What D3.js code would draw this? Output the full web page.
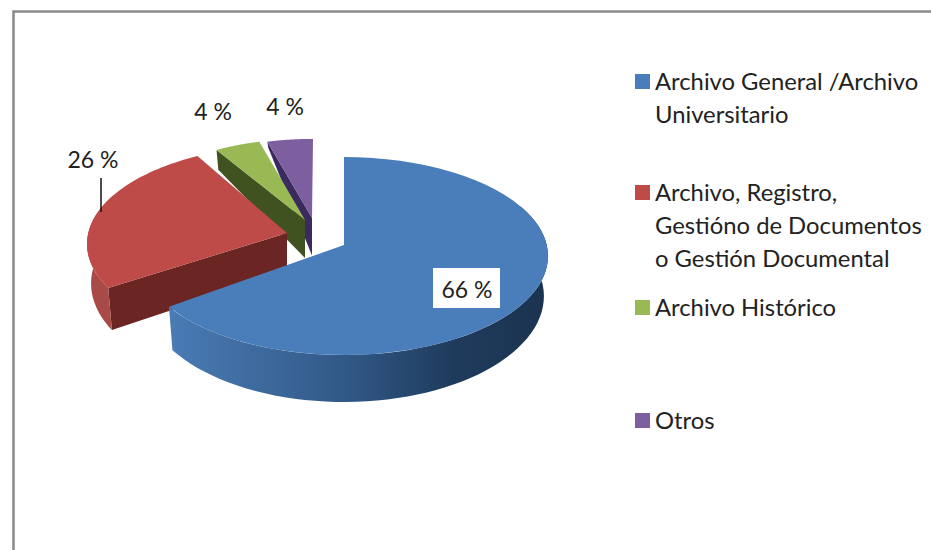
<!DOCTYPE html>
<html>
<head>
<meta charset="utf-8">
<script src="https://cdnjs.cloudflare.com/ajax/libs/d3/7.8.5/d3.min.js"></script>
<style>
  html, body { margin: 0; padding: 0; background: #fff; overflow: hidden; }
  text { font-family: Lato, "Open Sans", sans-serif; fill: #222; }
</style>
</head>
<body>
<svg></svg>
<script>
const width = 931;
const height = 550;

const categories = ['Archivo General /Archivo Universitario', 'Archivo, Registro, Gestióno de Documentos o Gestión Documental', 'Archivo Histórico', 'Otros'];
const values = [66, 26, 4, 4];
const legendLines = [
  ['Archivo General /Archivo', 'Universitario'],
  ['Archivo, Registro,', 'Gestióno de Documentos', 'o Gestión Documental'],
  ['Archivo Histórico'],
  ['Otros']
];

// look of each slice, same order as values
const topColors = ['#4a7ebb', '#be4b48', '#98b954', '#7d5fa0'];
const wallColors = [null, '#6b2523', '#3f5220', '#3a2a5e'];
// apex is where the slice's point sits, center is the middle of its ellipse (perspective moves them apart)
const apexes = [[344, 245], [287, 233], [305, 220], [312, 218]];
const centers = [[344, 256], [291, 244], [305, 228], [313, 228]];
const sizes = [1, 1, 0.9, 0.9];
// perspective also bends the cut angles a little, in degrees
const startShift = [0, 6, 0, 0];
const endShift = [1.5, 1.5, 0, 0];
const labelPos = [[467, 298], [93, 168], [213, 120], [285, 115]];
const legendY = [82, 193, 308, 421];
const lineGap = 33;

const rx = 204, ry = 99;

// the extrusion gets shorter towards the back of the picture
const depth = d3.scaleLinear().domain([142, 150, 220, 303, 355]).range([6, 20, 38, 43, 47]).clamp(true);

const svg = d3.select('svg').attr('width', width).attr('height', height);
const defs = svg.append('defs');

const blueWall = defs.append('linearGradient').attr('id', 'blueWall')
    .attr('gradientUnits', 'userSpaceOnUse')
    .attr('x1', 170).attr('x2', 548).attr('y1', 0).attr('y2', 0);
blueWall.append('stop').attr('offset', '0%').attr('stop-color', '#4a7bb5');
blueWall.append('stop').attr('offset', '45%').attr('stop-color', '#325a88');
blueWall.append('stop').attr('offset', '75%').attr('stop-color', '#1f3b5c');
blueWall.append('stop').attr('offset', '100%').attr('stop-color', '#1b3350');

// frame
svg.append('rect').attr('x', 13.5).attr('y', 11.5).attr('width', 940).attr('height', 560)
    .attr('fill', '#fff').attr('stroke', '#8a8a8a').attr('stroke-width', 2.5);

const pie = d3.pie().sort(null)(values);
const line = d3.line();
const rad = Math.PI / 180;

function topPoint(i, a) {
  const s = sizes[i];
  return [centers[i][0] + rx * s * Math.sin(a), centers[i][1] - ry * s * Math.cos(a)];
}

function bottomPoint(i, a) {
  const p = topPoint(i, a);
  return [p[0] + (centers[i][0] - p[0]) * 0.02, p[1] + depth(p[1])];
}

function apexBottom(i) {
  return [apexes[i][0], apexes[i][1] + depth(apexes[i][1])];
}

function angles(a0, a1) {
  return d3.range(0, 61).map(k => a0 + (a1 - a0) * k / 60);
}

const wallStart = Math.PI / 3, wallEnd = Math.PI * 5 / 3;

// back slices first, the blue one overlaps them
d3.range(pie.length - 1, -1, -1).forEach(i => {
  const start = pie[i].startAngle + startShift[i] * rad;
  const end = pie[i].endAngle + endShift[i] * rad;
  const g = svg.append('g').attr('class', 'slice');

  if (wallColors[i]) {
    g.append('path')
        .attr('d', line([apexes[i], topPoint(i, start), bottomPoint(i, start), apexBottom(i)]) + 'Z')
        .attr('fill', wallColors[i]);
  }

  const a0 = Math.max(start, wallStart), a1 = Math.min(end, wallEnd);
  if (a1 > a0) {
    const as = angles(a0, a1);
    const pts = as.map(a => topPoint(i, a)).concat(as.slice().reverse().map(a => bottomPoint(i, a)));
    g.append('path').attr('d', line(pts) + 'Z')
        .attr('fill', i === 0 ? 'url(#blueWall)' : '#a84a47');
  }

  const face = [apexes[i]].concat(angles(start, end).map(a => topPoint(i, a)));
  g.append('path').attr('d', line(face) + 'Z').attr('fill', topColors[i]);
});

// leader for the 26 % label
svg.append('line').attr('x1', 101).attr('x2', 101).attr('y1', 178).attr('y2', 212)
    .attr('stroke', '#111').attr('stroke-width', 1.5);

// white box behind 66 %
svg.append('rect').attr('x', 433).attr('y', 268).attr('width', 67).attr('height', 40).attr('fill', '#fff');

svg.selectAll('.pct').data(values).enter().append('text')
    .attr('class', 'pct')
    .attr('x', (d, i) => labelPos[i][0])
    .attr('y', (d, i) => labelPos[i][1])
    .attr('text-anchor', 'middle')
    .style('font-size', '23px')
    .text(d => d + ' %');

const legend = svg.selectAll('.legend').data(categories).enter().append('g').attr('class', 'legend');

legend.append('rect')
    .attr('x', 635).attr('y', (d, i) => legendY[i] - 8)
    .attr('width', 15).attr('height', 15)
    .attr('fill', (d, i) => topColors[i]);

legend.each(function (d, i) {
  d3.select(this).selectAll('text').data(legendLines[i]).enter().append('text')
      .attr('x', 655)
      .attr('y', (t, k) => legendY[i] + 8 + k * lineGap)
      .style('font-size', '23.8px')
      .text(t => t);
});
</script>
</body>
</html>
